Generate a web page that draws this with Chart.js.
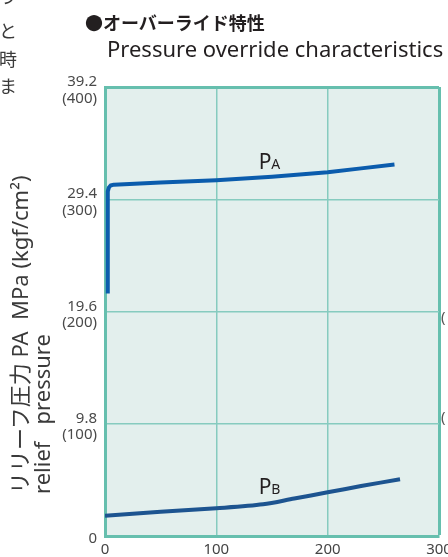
<!DOCTYPE html>
<html>
<head>
<meta charset="utf-8">
<script src="https://cdn.jsdelivr.net/npm/chart.js@4"></script>
<style>
  body { margin: 0; background: #fff; overflow: hidden; }
  #wrap { position: relative; width: 448px; height: 557px; }
  #myChart { position: absolute; left: 0; top: 0; }
  .txt { position: absolute; white-space: pre; color: #2b2b2b; }
  .side { font-family: "Noto Sans CJK JP", sans-serif; font-size: 18px; line-height: 20px; color: #3a3a3a; left: -1px; }
  .frag { font-family: "Noto Sans", sans-serif; font-size: 15px; color: #555; }
</style>
</head>
<body>
<div id="wrap">
  <canvas id="myChart" width="448" height="557"></canvas>

  <!-- cut off text of the neighbouring column -->
  <div class="txt side" style="top:-15px;">う</div>
  <div class="txt side" style="top:20px;">と</div>
  <div class="txt side" style="top:48px;">時</div>
  <div class="txt side" style="top:75px;">ま</div>

  <div class="txt" style="left:85px; top:12px; font: bold 18px 'Noto Sans CJK JP', sans-serif; line-height:20px; color:#231f20;">●オーバーライド特性</div>
  <div class="txt" style="left:107px; top:34px; font: 22px 'Noto Sans', 'Noto Sans CJK JP', sans-serif; line-height:28px; color:#231f20;">Pressure override characteristics</div>

  <div class="txt" style="left:8px; top:494px; transform-origin:0 0; transform:rotate(-90deg); font: 22px 'Noto Sans', 'Noto Sans CJK JP', sans-serif; line-height:22px; color:#3a3a3a;">リリーフ圧力 PA  MPa (kgf/cm²)
relief   pressure</div>

  <!-- labels of the next chart, cut by the edge -->
  <div class="txt frag" style="left:441px; top:306px;">(</div>
  <div class="txt frag" style="left:441px; top:406px;">(</div>
</div>

<script>
let popCanvas = document.getElementById("myChart");

// flow (L/min) and relief pressure (kgf/cm2)
let paFlow = [2.5, 2.5, 3.5, 5, 8, 50, 100, 150, 200, 230, 260];
let paPressure = [216, 307, 310.5, 312.2, 313, 315, 317, 320, 324, 327.5, 331];

let pbFlow = [0, 50, 100, 142, 170, 200, 230, 265];
let pbPressure = [18, 21.5, 24.7, 28.2, 33.4, 38.9, 44.5, 50.5];

let yTickMpa = ["0", "9.8", "19.6", "29.4", "39.2"];
let yTickKgf = ["", "(100)", "(200)", "(300)", "(400)"];
let xTicks = [0, 100, 200, 300];

let curveNames = [["P", "A"], ["P", "B"]];
let curveNameAt = [[138, 327], [138, 37.4]];

let gridColor = "#86cbbf";
let frameColor = "#66bfae";

function toPoints(xs, ys) {
    return xs.map((x, i) => ({ x: x, y: ys[i] }));
}

let paData = {
    label: "PA",
    data: toPoints(paFlow, paPressure),
    borderColor: "#0b5cad",
    borderWidth: 4,
    borderJoinStyle: "round",
    pointRadius: 0,
    tension: 0
};

let pbData = {
    label: "PB",
    data: toPoints(pbFlow, pbPressure),
    borderColor: "#1d5490",
    borderWidth: 4,
    borderJoinStyle: "round",
    pointRadius: 0,
    tension: 0.3
};

// plot background + curve names
let plotExtras = {
    id: "plotExtras",
    beforeDraw(chart) {
        let a = chart.chartArea;
        let ctx = chart.ctx;
        ctx.save();
        ctx.fillStyle = "#e3efed";
        ctx.fillRect(a.left, a.top, a.right - a.left, a.bottom - a.top);
        ctx.restore();
    },
    afterDatasetsDraw(chart) {
        let ctx = chart.ctx;
        let xs = chart.scales.x, ys = chart.scales.y;
        ctx.save();
        ctx.fillStyle = "#231f20";
        ctx.textBaseline = "alphabetic";
        curveNames.forEach((n, i) => {
            let px = xs.getPixelForValue(curveNameAt[i][0]);
            let py = ys.getPixelForValue(curveNameAt[i][1]);
            ctx.font = "21px 'Noto Sans', sans-serif";
            ctx.fillText(n[0], px, py);
            let w = ctx.measureText(n[0]).width;
            ctx.font = "14px 'Noto Sans', sans-serif";
            ctx.fillText(n[1], px + w, py);
        });
        ctx.restore();
    }
};

function edgeWidth(ctx, max) {
    return ctx.tick && ctx.tick.value === max ? 3 : 1.5;
}
function edgeColor(ctx, max) {
    return ctx.tick && ctx.tick.value === max ? frameColor : gridColor;
}

let chart = new Chart(popCanvas, {
    type: "line",
    data: { datasets: [paData, pbData] },
    options: {
        responsive: false,
        animation: false,
        layout: { padding: { top: 87, right: 9, left: 0, bottom: 0 } },
        plugins: { legend: { display: false }, tooltip: { enabled: false } },
        scales: {
            x: {
                type: "linear",
                min: 0,
                max: 300,
                afterBuildTicks: s => { s.ticks = xTicks.map(v => ({ value: v })); },
                afterFit: s => { s.height = 21; s.paddingLeft = 0; s.paddingRight = 0; },
                ticks: {
                    color: "#444",
                    font: { family: "'Noto Sans', sans-serif", size: 15 },
                    padding: 5,
                    maxRotation: 0
                },
                grid: {
                    drawTicks: false,
                    color: c => edgeColor(c, 300),
                    lineWidth: c => edgeWidth(c, 300)
                },
                border: { color: frameColor, width: 3 }
            },
            y: {
                min: 0,
                max: 400,
                ticks: {
                    stepSize: 100,
                    color: "#4a4a4a",
                    font: { family: "'Noto Sans', sans-serif", size: 15, lineHeight: 1.1 },
                    padding: 8,
                    labelOffset: 3,
                    callback: (v, i) => i === 0 ? yTickMpa[0] : [yTickMpa[i], yTickKgf[i]]
                },
                afterFit: s => { s.width = 105; s.paddingTop = 0; s.paddingBottom = 0; },
                grid: {
                    drawTicks: false,
                    color: c => edgeColor(c, 400),
                    lineWidth: c => edgeWidth(c, 400)
                },
                border: { color: frameColor, width: 3 }
            }
        }
    },
    plugins: [plotExtras]
});
</script>
</body>
</html>
